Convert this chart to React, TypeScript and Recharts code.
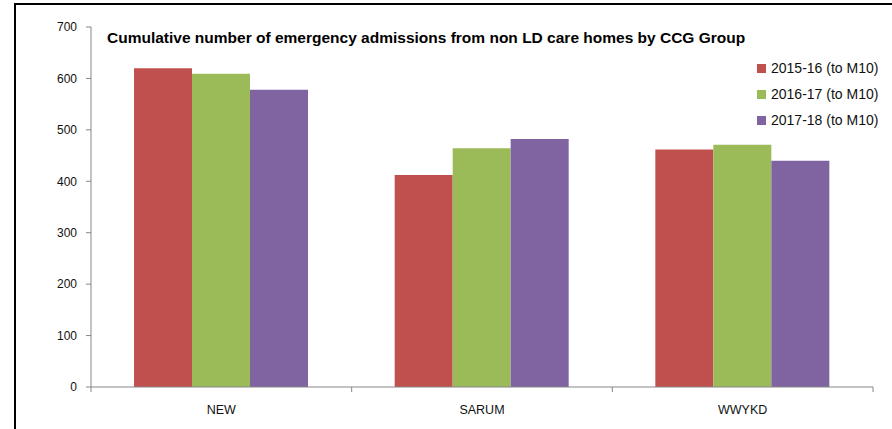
import { Bar, BarChart, XAxis, YAxis } from "recharts";

const groups = ["NEW", "SARUM", "WWYKD"];
const y2015 = [620, 412, 462];
const y2016 = [609, 464, 471];
const y2017 = [578, 482, 440];
const seriesNames = ["2015-16 (to M10)", "2016-17 (to M10)", "2017-18 (to M10)"];
const yTicks = [0, 100, 200, 300, 400, 500, 600, 700];

const COLORS = ["#C0504D", "#9BBB59", "#8064A2"];
const AXIS = "#868686";
const FONT = "'Liberation Sans', Arial, sans-serif";

const data = groups.map((g, i) => ({ group: g, a: y2015[i], b: y2016[i], c: y2017[i] }));

// Excel-style category axis: tick marks sit between categories, not under them
function CategoryTick(props: any) {
  const { x, y, payload, index } = props;
  const half = payload.offset ?? 0;
  const last = index === groups.length - 1;
  return (
    <g>
      <line x1={x - half} x2={x - half} y1={y} y2={y + 5} stroke={AXIS} />
      {last && <line x1={x + half} x2={x + half} y1={y} y2={y + 5} stroke={AXIS} />}
      <text x={x} y={y + 27} textAnchor="middle" fontSize={12.5} fill="#111" fontFamily={FONT}>
        {payload.value}
      </text>
    </g>
  );
}

function LegendBox() {
  return (
    <div style={{ fontFamily: FONT, fontSize: 14, color: "#111" }}>
      {seriesNames.map((name, i) => (
        <div key={name} style={{ display: "flex", alignItems: "center", height: 26 }}>
          <span style={{ width: 9, height: 9, background: COLORS[i], marginRight: 5 }} />
          {name}
        </div>
      ))}
    </div>
  );
}

export default function App() {
  return (
    <div style={{ position: "absolute", left: 0, top: 0, width: 892, height: 429, background: "#fff", overflow: "hidden" }}>
      <div
        style={{
          position: "absolute",
          left: 14,
          top: 3,
          width: 880,
          height: 430,
          borderLeft: "2px solid #000",
          borderTop: "2px solid #000",
        }}
      />
      <BarChart
        width={892}
        height={429}
        data={data}
        margin={{ top: 27, right: 19, bottom: 0, left: 0 }}
        barCategoryGap="16.5%"
        barGap={0}
      >
        <XAxis
          dataKey="group"
          height={42}
          tickLine={false}
          tickSize={0}
          tickMargin={0}
          axisLine={{ stroke: AXIS }}
          tick={<CategoryTick />}
          interval={0}
        />
        <YAxis
          width={91}
          domain={[0, 700]}
          ticks={yTicks}
          tickSize={5}
          tickMargin={9}
          tickLine={{ stroke: AXIS }}
          axisLine={{ stroke: AXIS }}
          tick={{ fontSize: 12, fill: "#111", fontFamily: FONT }}
        />
        <Bar dataKey="a" name={seriesNames[0]} fill={COLORS[0]} isAnimationActive={false} />
        <Bar dataKey="b" name={seriesNames[1]} fill={COLORS[1]} isAnimationActive={false} />
        <Bar dataKey="c" name={seriesNames[2]} fill={COLORS[2]} isAnimationActive={false} />
      </BarChart>
      <div style={{ position: "absolute", left: 757, top: 55 }}>
        <LegendBox />
      </div>
      <div
        style={{
          position: "absolute",
          left: 107,
          top: 29,
          fontFamily: FONT,
          fontWeight: "bold",
          fontSize: 15.5,
          color: "#000",
          whiteSpace: "nowrap",
        }}
      >
        Cumulative number of emergency admissions from non LD care homes by CCG Group
      </div>
    </div>
  );
}
